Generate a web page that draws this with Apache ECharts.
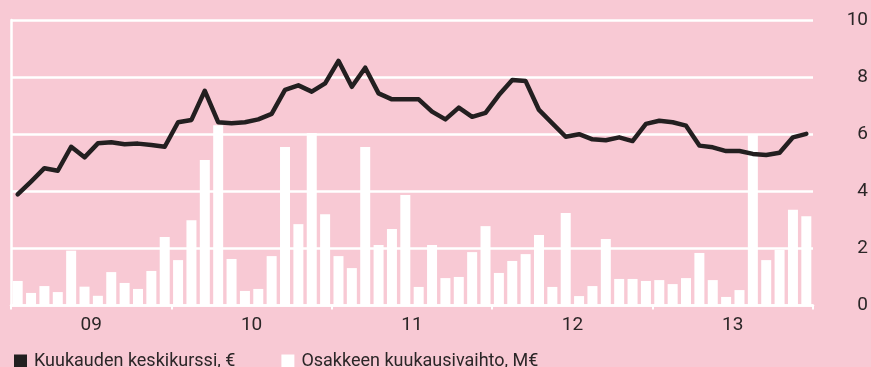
<!DOCTYPE html>
<html>
<head>
<meta charset="utf-8">
<script src="https://cdn.jsdelivr.net/npm/echarts@6/dist/echarts.min.js"></script>
<style>
  html, body { margin: 0; padding: 0; background: #f8c9d4; }
  #chart { width: 871px; height: 367px; }
</style>
</head>
<body>
<div id="chart"></div>
<script>
// Monthly categories 2009–2013
const months = [];
for (let y = 2009; y <= 2013; y++) {
  for (let m = 1; m <= 12; m++) months.push(y + '-' + String(m).padStart(2, '0'));
}
const years = ['09', '10', '11', '12', '13'];
const yTicks = [0, 2, 4, 6, 8, 10];

// Kuukauden keskikurssi, €
const avgPrice = [
  3.89, 4.34, 4.81, 4.72, 5.56, 5.19, 5.68, 5.72, 5.65, 5.67, 5.62, 5.56,
  6.42, 6.50, 7.52, 6.42, 6.38, 6.42, 6.52, 6.71, 7.55, 7.71, 7.49, 7.78,
  8.57, 7.66, 8.33, 7.43, 7.22, 7.22, 7.22, 6.79, 6.52, 6.93, 6.61, 6.75,
  7.37, 7.90, 7.86, 6.85, 6.38, 5.91, 6.00, 5.82, 5.79, 5.89, 5.76, 6.36,
  6.47, 6.42, 6.30, 5.60, 5.54, 5.41, 5.41, 5.31, 5.27, 5.35, 5.89, 6.01
];

// Osakkeen kuukausivaihto, M€
const turnover = [
  0.86, 0.44, 0.68, 0.47, 1.92, 0.66, 0.34, 1.17, 0.79, 0.58, 1.21, 2.40,
  1.59, 2.99, 5.10, 6.31, 1.63, 0.51, 0.58, 1.73, 5.55, 2.85, 6.04, 3.20,
  1.73, 1.31, 5.55, 2.12, 2.68, 3.87, 0.65, 2.12, 0.96, 1.00, 1.87, 2.78,
  1.14, 1.56, 1.80, 2.47, 0.65, 3.24, 0.33, 0.68, 2.33, 0.93, 0.93, 0.86,
  0.89, 0.75, 0.96, 1.84, 0.89, 0.30, 0.54, 6.00, 1.59, 1.95, 3.35, 3.13
];

const FONT = 'Roboto';
const TEXT = '#2b2627';
const INK = '#231f20';

const chart = echarts.init(document.getElementById('chart'), null, { renderer: 'canvas' });

chart.setOption({
  backgroundColor: '#f8c9d4',
  animation: false,
  grid: { left: 11, right: 55, top: 20, bottom: 61.5 },
  legend: {
    left: 9,
    top: 347,
    itemWidth: 13,
    itemHeight: 13,
    itemGap: 46,
    icon: 'rect',
    textStyle: { fontFamily: FONT, fontSize: 18, color: TEXT, padding: [0, 0, 0, 2] },
    data: [
      { name: 'Kuukauden keskikurssi, €', itemStyle: { color: INK } },
      { name: 'Osakkeen kuukausivaihto, M€', itemStyle: { color: '#ffffff' } }
    ]
  },
  xAxis: [
    {
      type: 'category',
      data: months,
      boundaryGap: true,
      show: false
    },
    {
      type: 'category',
      data: years,
      position: 'bottom',
      offset: 3,
      boundaryGap: true,
      axisLine: { show: true, lineStyle: { color: '#ffffff', width: 2.5 } },
      axisTick: { show: true, length: 4, lineStyle: { color: '#ffffff', width: 2 } },
      axisLabel: { fontFamily: FONT, fontSize: 19, color: TEXT, margin: 7 },
      splitLine: { show: false }
    }
  ],
  yAxis: [
    {
      type: 'value',
      position: 'right',
      min: yTicks[0],
      max: yTicks[yTicks.length - 1],
      interval: 2,
      axisLine: { show: false },
      axisTick: { show: false },
      axisLabel: { fontFamily: FONT, fontSize: 19, color: TEXT, align: 'right', margin: 55 },
      splitLine: { show: true, lineStyle: { color: '#ffffff', width: 2.5 } }
    },
    {
      type: 'value',
      position: 'left',
      min: yTicks[0],
      max: yTicks[yTicks.length - 1],
      interval: 2,
      axisLine: { show: true, lineStyle: { color: '#ffffff', width: 2.5 } },
      axisTick: { show: false },
      axisLabel: { show: false },
      splitLine: { show: false }
    }
  ],
  series: [
    {
      name: 'Osakkeen kuukausivaihto, M€',
      type: 'bar',
      xAxisIndex: 0,
      yAxisIndex: 0,
      data: turnover,
      barWidth: 10,
      itemStyle: { color: '#ffffff' },
      z: 2
    },
    {
      name: 'Kuukauden keskikurssi, €',
      type: 'line',
      xAxisIndex: 0,
      yAxisIndex: 0,
      data: avgPrice,
      showSymbol: false,
      symbol: 'none',
      lineStyle: { color: INK, width: 4.5, join: 'round', cap: 'round' },
      itemStyle: { color: INK },
      z: 3
    }
  ]
});
</script>
</body>
</html>
